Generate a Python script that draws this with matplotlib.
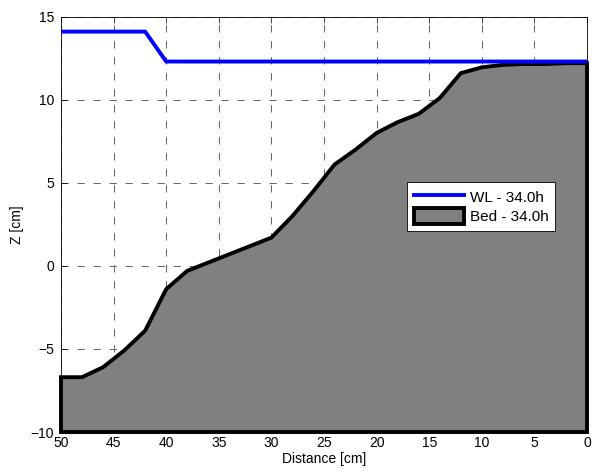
import matplotlib
matplotlib.use("Agg")
import matplotlib.pyplot as plt
from matplotlib.lines import Line2D
from matplotlib.patches import Patch

plt.rcParams["font.family"] = ["Liberation Sans", "DejaVu Sans"]
plt.rcParams["font.size"] = 10

# bed profile at 34.0h (distance in cm, elevation in cm)
bed_dist = [50, 48, 46, 44, 42, 40, 38, 36, 34, 32, 30, 28, 26, 24, 22,
            20, 18, 16, 14, 12, 10, 8, 6, 4, 2, 0]
bed_z = [-6.7, -6.7, -6.1, -5.1, -3.9, -1.4, -0.3, 0.2, 0.7, 1.2, 1.7, 3.0,
         4.5, 6.1, 7.0, 8.0, 8.65, 9.15, 10.1, 11.6, 11.95, 12.1, 12.15,
         12.15, 12.2, 12.2]

# water level at 34.0h
wl_dist = [50, 42, 40, 0]
wl_z = [14.1, 14.1, 12.3, 12.3]

z_floor = -10
x_ticks = [50, 45, 40, 35, 30, 25, 20, 15, 10, 5, 0]
y_ticks = [-10, -5, 0, 5, 10, 15]

fig = plt.figure(figsize=(5.92, 4.76), dpi=100)
ax = fig.add_axes([0.103, 0.0924, 0.8886, 0.8726])

poly_x = bed_dist + [bed_dist[-1], bed_dist[0]]
poly_y = bed_z + [z_floor, z_floor]
ax.fill(poly_x, poly_y, facecolor="#808080", edgecolor="black",
        linewidth=2.8, zorder=2, clip_on=False, joinstyle="miter")
ax.plot(wl_dist, wl_z, color="#0000ff", linewidth=2.8, zorder=3,
        solid_joinstyle="miter")

ax.set_xlim(50, 0)
ax.set_ylim(-10, 15)
ax.set_xticks(x_ticks)
ax.set_yticks(y_ticks)
ax.tick_params(direction="in", length=4, width=0.5, labelsize=10,
               top=True, right=True)
ax.tick_params(axis="x", pad=3)
ax.tick_params(axis="y", pad=5)
ax.grid(True, linestyle=(0, (7.3, 8.7)), color="0.4", linewidth=0.72)
ax.set_axisbelow(True)
for sp in ax.spines.values():
    sp.set_linewidth(0.6)

ax.set_xlabel("Distance [cm]", fontsize=10, labelpad=1)
ax.set_ylabel("Z [cm]", fontsize=10, labelpad=5)

handles = [
    Line2D([], [], color="#0000ff", linewidth=2.8),
    Patch(facecolor="#808080", edgecolor="black", linewidth=2.8),
]
leg = ax.legend(handles, ["WL - 34.0h", "Bed - 34.0h"], loc="lower right",
                bbox_to_anchor=(0.94, 0.484), borderaxespad=0,
                fancybox=False, framealpha=1, edgecolor="black",
                handlelength=3.3, handleheight=1.25, handletextpad=0.35,
                labelspacing=0.2, borderpad=0.45, fontsize=11)
leg.get_frame().set_linewidth(0.6)
leg.set_zorder(5)

fig.savefig("out.png", dpi=100)
